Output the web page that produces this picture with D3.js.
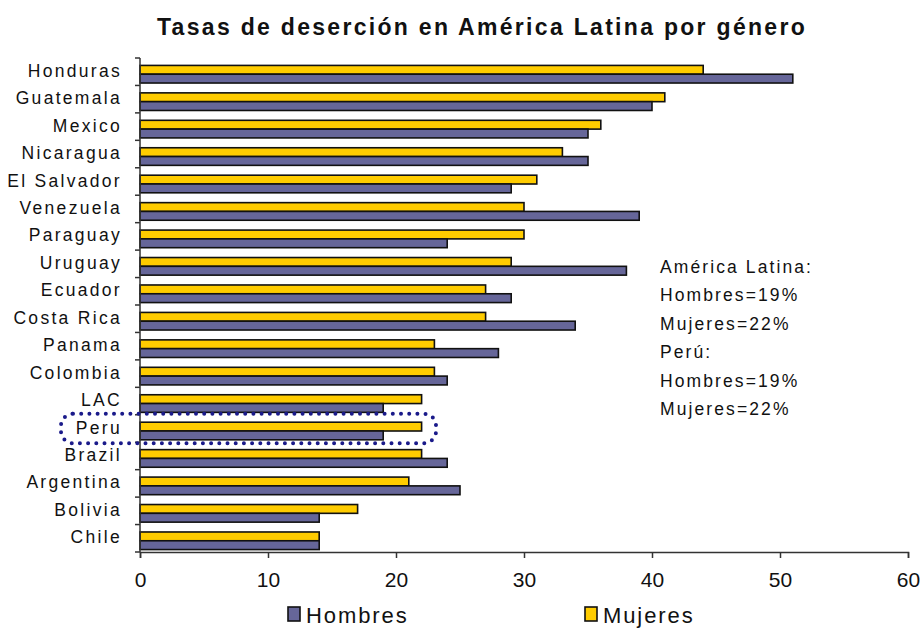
<!DOCTYPE html>
<html>
<head>
<meta charset="utf-8">
<script src="https://cdn.jsdelivr.net/npm/d3@7/dist/d3.min.js"></script>
<style>
  body { margin: 0; background: #fff; }
  svg { display: block; font-family: "Liberation Sans", Arial, sans-serif; }
</style>
</head>
<body>
<svg id="chart" width="924" height="630"></svg>
<script>
// Dropout rates by country and gender (%)
const countries = ["Honduras", "Guatemala", "Mexico", "Nicaragua", "El Salvador", "Venezuela",
  "Paraguay", "Uruguay", "Ecuador", "Costa Rica", "Panama", "Colombia", "LAC", "Peru",
  "Brazil", "Argentina", "Bolivia", "Chile"];
const hombres = [51, 40, 35, 35, 29, 39, 24, 38, 29, 34, 28, 24, 19, 19, 24, 25, 14, 14];
const mujeres = [44, 41, 36, 33, 31, 30, 30, 29, 27, 27, 23, 23, 22, 22, 22, 21, 17, 14];
const xTicks = [0, 10, 20, 30, 40, 50, 60];
const notes = ["América Latina:", "Hombres=19%", "Mujeres=22%", "Perú:", "Hombres=19%", "Mujeres=22%"];
const highlight = "Peru";

const colH = "#666699", colM = "#FFCC00";
const svg = d3.select("#chart");
const m = { left: 140, right: 908, top: 58, bottom: 552 };

const x = d3.scaleLinear().domain([0, 60]).range([m.left, m.right]);
const y = d3.scaleBand().domain(countries).range([m.top, m.bottom]);
const barH = 8.8;
const barShift = 2.5;

// Title
svg.append("text").attr("x", 482).attr("y", 35).attr("text-anchor", "middle")
  .attr("font-size", 23).attr("font-weight", "bold").attr("letter-spacing", 2.3)
  .attr("fill", "#111").text("Tasas de deserción en América Latina por género");

// Bars: Mujeres on top, Hombres beneath in each band
const g = svg.append("g");
countries.forEach((c, i) => {
  const cy = y(c) + y.bandwidth() / 2 + barShift;
  g.append("rect").attr("x", x(0)).attr("y", cy - barH)
    .attr("width", x(mujeres[i]) - x(0)).attr("height", barH)
    .attr("fill", colM).attr("stroke", "#111").attr("stroke-width", 1.6);
  g.append("rect").attr("x", x(0)).attr("y", cy)
    .attr("width", x(hombres[i]) - x(0)).attr("height", barH)
    .attr("fill", colH).attr("stroke", "#111").attr("stroke-width", 1.6);
});

// Y axis with ticks at band boundaries
svg.append("line").attr("x1", m.left).attr("x2", m.left).attr("y1", m.top).attr("y2", m.bottom)
  .attr("stroke", "#333").attr("stroke-width", 1.5);
countries.concat([null]).forEach(c => {
  const yy = c ? y(c) : m.bottom;
  svg.append("line").attr("x1", m.left - 5).attr("x2", m.left).attr("y1", yy).attr("y2", yy)
    .attr("stroke", "#333").attr("stroke-width", 1.5);
});
svg.append("g").selectAll("text").data(countries).join("text")
  .attr("x", 122).attr("y", d => y(d) + y.bandwidth() / 2 + 5)
  .attr("text-anchor", "end").attr("font-size", 17.5).attr("letter-spacing", 2.3)
  .attr("fill", "#111").text(d => d);

// X axis
const xAxis = d3.axisBottom(x).tickValues(xTicks).tickSize(6).tickPadding(14).tickFormat(d3.format("d"));
const xa = svg.append("g").attr("transform", `translate(0,${m.bottom})`).call(xAxis);
xa.select(".domain").attr("stroke", "#333").attr("stroke-width", 1.5);
xa.selectAll(".tick line").attr("stroke", "#333").attr("stroke-width", 1.5);
xa.selectAll(".tick text").attr("font-size", 21).attr("fill", "#111")
  .attr("font-family", "'Liberation Sans', Arial, sans-serif");

// Highlight around Peru
const py = y(highlight);
svg.append("rect").attr("x", 61).attr("y", py - 1).attr("width", 375).attr("height", y.bandwidth() + 2)
  .attr("rx", 12).attr("fill", "none").attr("stroke", "#1a1a8a").attr("stroke-width", 4)
  .attr("stroke-linecap", "round").attr("stroke-dasharray", "0 8.2");

// Summary notes
svg.append("g").selectAll("text").data(notes).join("text")
  .attr("x", 660).attr("y", (d, i) => 273 + i * 28.4)
  .attr("font-size", 17.5).attr("letter-spacing", 2.1).attr("fill", "#111").text(d => d);

// Legend
const legend = [["Hombres", colH, 288], ["Mujeres", colM, 585]];
legend.forEach(([lab, col, lx]) => {
  svg.append("rect").attr("x", lx).attr("y", 607).attr("width", 12).attr("height", 14)
    .attr("fill", col).attr("stroke", "#111").attr("stroke-width", 1.6);
  svg.append("text").attr("x", lx + 18).attr("y", 623).attr("font-size", 22)
    .attr("letter-spacing", 1.9).attr("fill", "#111").text(lab);
});
</script>
</body>
</html>
